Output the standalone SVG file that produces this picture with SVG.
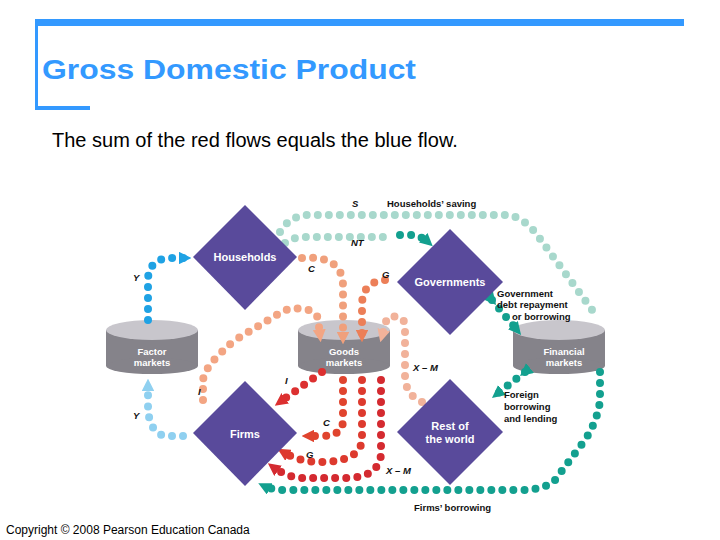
<svg xmlns="http://www.w3.org/2000/svg" width="720" height="540" viewBox="0 0 720 540">
<style>
.d{fill:#594a9b}
.nl{font-family:"Liberation Sans",Arial,sans-serif;font-weight:bold;font-size:11px;fill:#fff;text-anchor:middle}
.cl{font-family:"Liberation Sans",Arial,sans-serif;font-weight:bold;font-size:9.5px;fill:#fff;text-anchor:middle}
.lb{font-family:"Liberation Sans",Arial,sans-serif;font-weight:bold;font-size:9.5px;fill:#111}
.it{font-style:italic}
.f{fill:none;stroke-linecap:round;stroke-width:8;stroke-dasharray:0 11}
.cylt{fill:#c8c6cc}
.cylb{fill:#85838a}
</style>
<defs>
<marker id="ar" viewBox="0 0 10 10" refX="5" refY="5" markerWidth="1.6" markerHeight="1.6" orient="auto"><path d="M0,0L10,5L0,10z" fill="context-stroke"/></marker>
</defs>
<rect x="35" y="19" width="649" height="7" fill="#3399ff"/>
<rect x="35" y="19" width="3" height="90" fill="#3399ff"/>
<rect x="35" y="106" width="55" height="4" fill="#3399ff"/>
<text x="42" y="79" font-family="Liberation Sans,Arial,sans-serif" font-weight="bold" font-size="28" textLength="374" lengthAdjust="spacingAndGlyphs" fill="#3399ff">Gross Domestic Product</text>
<text x="52" y="147" font-family="Liberation Sans,Arial,sans-serif" font-size="20" fill="#000">The sum of the red flows equals the blue flow.</text>
<text x="6" y="534" font-family="Liberation Sans,Arial,sans-serif" font-size="12" fill="#000">Copyright © 2008 Pearson Education Canada</text>

<g id="factor-markets"><rect class="cylb" x="106" y="330" width="92" height="36"/><ellipse class="cylb" cx="152" cy="366" rx="46" ry="8"/><ellipse class="cylt" cx="152" cy="330" rx="46" ry="10"/><text class="cl" x="152" y="355">Factor</text><text class="cl" x="152" y="366">markets</text></g>
<g id="goods-markets"><rect class="cylb" x="298" y="330" width="92" height="36"/><ellipse class="cylb" cx="344" cy="366" rx="46" ry="8"/><ellipse class="cylt" cx="344" cy="330" rx="46" ry="10"/><text class="cl" x="344" y="355">Goods</text><text class="cl" x="344" y="366">markets</text></g>
<g id="financial-markets"><rect class="cylb" x="513" y="330" width="92" height="36"/><ellipse class="cylb" cx="559" cy="366" rx="46" ry="8"/><ellipse class="cylt" cx="559" cy="330" rx="46" ry="10"/><text class="cl" x="564" y="355">Financial</text><text class="cl" x="564" y="366">markets</text></g>

<g id="connectors">
<path class="f" stroke="#a8d8cc" d="M280,232 Q290,215 310,215 L505,215 Q520,215 535,232 L598,318"/>
<path class="f" stroke="#a8d8cc" d="M285,243 Q293,237 305,237 L390,237"/>
<path class="f" stroke="#13a08f" d="M400,235 Q418,233 428,242" marker-end="url(#ar)"/>
<path class="f" stroke="#1fa2e4" d="M148,320 L148,278 Q150,258 172,258 L185,258" marker-end="url(#ar)"/>
<path class="f" stroke="#8fd0f0" d="M183,436 L165,436 Q148,432 148,405 L148,385" marker-end="url(#ar)"/>
<path class="f" stroke="#f0a07c" d="M302,258 Q342,255 343,285 L343,338" marker-end="url(#ar)"/>
<path class="f" stroke="#ec7f58" d="M385,280 Q362,282 362,305 L362,336" marker-end="url(#ar)"/>
<path class="f" stroke="#f3a583" d="M203,400 L203,380 Q205,365 235,340 L285,310 Q312,305 318,318 L320,336" marker-end="url(#ar)"/>
<path class="f" stroke="#f1b29a" d="M422,402 Q405,395 405,375 L405,325 Q403,313 387,318 L382,336" marker-end="url(#ar)"/>
<path class="f" stroke="#dc3030" d="M322,372 L280,402" marker-end="url(#ar)"/>
<path class="f" stroke="#e0442e" d="M343,380 L343,420 Q343,436 322,436 L308,436" marker-end="url(#ar)"/>
<path class="f" stroke="#dd3a2e" d="M362,380 L362,440 Q360,462 320,462 Q300,462 283,452" marker-end="url(#ar)"/>
<path class="f" stroke="#d42a30" d="M381,380 L381,455 Q378,478 345,478 L300,478 Q285,476 273,467" marker-end="url(#ar)"/>
<path class="f" stroke="#13a08f" d="M600,372 L600,400 Q598,420 585,440 L555,480 Q545,490 520,490 L285,490 Q272,490 264,486" marker-end="url(#ar)"/>
<path class="f" stroke="#13a08f" d="M492,300 L517,330" marker-start="url(#ar)" marker-end="url(#ar)"/>
<path class="f" stroke="#13a08f" d="M525,372 L497,394" marker-start="url(#ar)" marker-end="url(#ar)"/>
</g>

<g id="households"><path class="d" d="M245,205L297,257L245,310L193,257z"/><text class="nl" x="245" y="261">Households</text></g>
<g id="governments"><path class="d" d="M450,229L503,282L450,335L397,282z"/><text class="nl" x="450" y="286">Governments</text></g>
<g id="firms"><path class="d" d="M245,381L297,433L245,486L193,433z"/><text class="nl" x="245" y="438">Firms</text></g>
<g id="rest-of-world"><path class="d" d="M450,379L503,432L450,485L397,432z"/><text class="nl" x="450" y="430">Rest of</text><text class="nl" x="450" y="443">the world</text></g>

<g id="labels">
<text class="lb it" x="352" y="207">S</text>
<text class="lb" x="387" y="207">Households’ saving</text>
<text class="lb it" x="351" y="246">NT</text>
<text class="lb it" x="308" y="272">C</text>
<text class="lb it" x="382" y="278">G</text>
<text class="lb it" x="133" y="281">Y</text>
<text class="lb it" x="133" y="419">Y</text>
<text class="lb it" x="198" y="395">I</text>
<text class="lb it" x="285" y="384">I</text>
<text class="lb it" x="323" y="426">C</text>
<text class="lb it" x="306" y="458">G</text>
<text class="lb it" x="413" y="371">X – M</text>
<text class="lb it" x="386" y="474">X – M</text>
<text class="lb" x="497" y="297">Government</text>
<text class="lb" x="497" y="308">debt repayment</text>
<text class="lb" x="512" y="320">or borrowing</text>
<text class="lb" x="504" y="398">Foreign</text>
<text class="lb" x="504" y="410">borrowing</text>
<text class="lb" x="504" y="422">and lending</text>
<text class="lb" x="414" y="511">Firms’ borrowing</text>
</g>
</svg>
